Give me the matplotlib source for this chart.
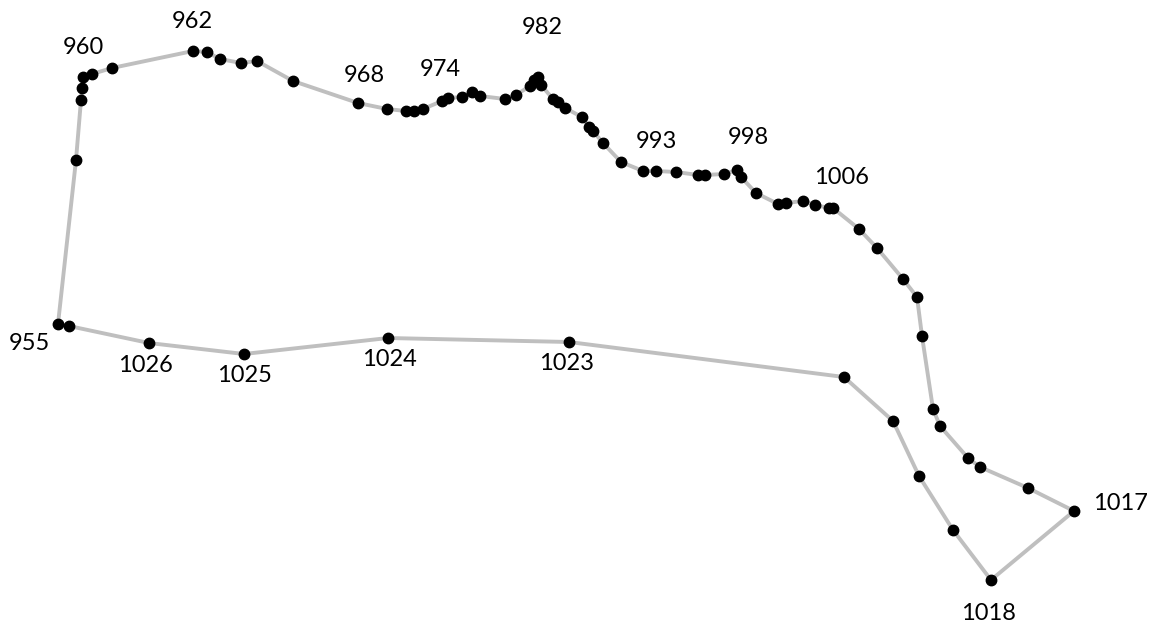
import numpy as np
import matplotlib.pyplot as plt

# Point ids along the loop (955 .. 1027), closed back to 955
point_ids = list(range(955, 1028))

x = [58, 76, 81, 82, 83, 92, 112, 193, 207, 220, 241, 257, 293, 358, 387,
     406, 414, 423, 442, 448, 462, 472, 480, 505, 516, 530, 534, 538, 541,
     553, 558, 565, 582, 589, 593, 603, 621, 643, 656, 676, 698, 705, 724,
     737, 741, 756, 778, 786, 803, 815, 829, 833, 859, 877, 903, 917, 922,
     933, 940, 968, 980, 1028, 1074, 991, 953, 919, 893, 844, 569, 388, 244,
     149, 69]
y = [324, 160, 100, 88, 77, 74, 68, 51, 52, 59, 63, 61, 81, 103, 109,
     111, 111, 109, 101, 98, 97, 92, 96, 99, 95, 86, 80, 77, 85,
     99, 102, 108, 117, 127, 131, 143, 162, 171, 171, 172, 175, 175, 174,
     170, 177, 193, 204, 203, 201, 205, 208, 208, 229, 248, 279, 297, 336,
     409, 426, 458, 467, 488, 511, 580, 530, 476, 421, 377, 342, 338, 354,
     343, 326]

labelled = [955, 960, 962, 968, 974, 982, 993, 998, 1006, 1017, 1018,
            1023, 1024, 1025, 1026]

# label placement (offset in pixels from the point)
label_offsets = {
    955: (-29, -19), 960: (-9, 27), 962: (-1, 29), 968: (6, 28),
    974: (-8, 29), 982: (4, 50), 993: (0, 30), 998: (11, 32),
    1006: (9, 30), 1017: (46, 8), 1018: (-3, -33), 1023: (-2, -21),
    1024: (1, -22), 1025: (0, -21), 1026: (-4, -22),
}

fig = plt.figure(figsize=(11.58, 6.26), dpi=100)
ax = fig.add_axes([0, 0, 1, 1])

# closed path
ax.plot(x + x[:1], y + y[:1], color='#bfbfbf', linewidth=2.8, zorder=1)
ax.plot(x, y, linestyle='none', marker='o', markersize=7.5,
        color='black', zorder=2)

for pid in labelled:
    i = point_ids.index(pid)
    ax.annotate(str(pid), (x[i], y[i]), xytext=label_offsets[pid],
                textcoords='offset pixels', ha='center', va='center',
                fontsize=17, family=['Lato', 'DejaVu Sans'], color='black')

ax.set_xlim(0, 1158)
ax.set_ylim(626, 0)
ax.axis('off')

plt.savefig('out.png', dpi=100)
plt.close()
